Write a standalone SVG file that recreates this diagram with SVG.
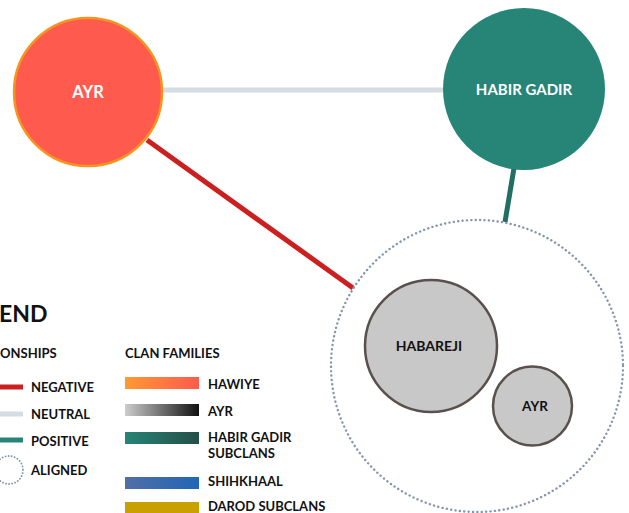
<svg xmlns="http://www.w3.org/2000/svg" width="629" height="513" viewBox="0 0 629 513">
<style>
text{font-family:Lato,"Open Sans","Liberation Sans",sans-serif;font-weight:700;}
.lbl{font-size:15px;text-anchor:middle;}
.w{fill:#ffffff;}
.k{fill:#111111;}
.leg{font-size:13px;fill:#111111;}
.sub{stroke:#5a504d;stroke-width:2.5;fill:#c8c8c8;}
.dot{fill:none;stroke:#8396ad;stroke-width:2.4;stroke-dasharray:0.1 4.3;stroke-linecap:round;}
.c{fill:none;stroke-width:5;}
</style>
<defs>
<linearGradient id="gHaw" x1="0" x2="1"><stop offset="0" stop-color="#ff9933"/><stop offset="1" stop-color="#ff5a4e"/></linearGradient>
<linearGradient id="gAyr" x1="0" x2="1"><stop offset="0" stop-color="#cccccc"/><stop offset="1" stop-color="#111111"/></linearGradient>
<linearGradient id="gHab" x1="0" x2="1"><stop offset="0" stop-color="#268577"/><stop offset="1" stop-color="#244f47"/></linearGradient>
<linearGradient id="gShi" x1="0" x2="1"><stop offset="0" stop-color="#516ea6"/><stop offset="1" stop-color="#2166b6"/></linearGradient>
</defs>
<g id="connectors">
<line class="c" x1="163" y1="90" x2="443" y2="90" stroke="#d5dde3"/>
<line class="c" x1="147" y1="140" x2="353" y2="288" stroke="#cc1f1f"/>
<line class="c" x1="514" y1="168" x2="505" y2="222" stroke="#206f62"/>
</g>
<g id="node-ayr">
<circle cx="88" cy="92" r="74" fill="#ff5a4e" stroke="#f7941d" stroke-width="2.5"/>
<text class="lbl w" x="88" y="98" style="font-size:16.5px">AYR</text>
</g>
<g id="node-habir-gadir">
<circle cx="524" cy="89" r="81" fill="#268577"/>
<text class="lbl w" x="524" y="95">HABIR GADIR</text>
</g>
<g id="group-aligned">
<circle class="dot" cx="477" cy="366" r="146"/>
</g>
<g id="node-habareji">
<circle class="sub" cx="431" cy="346" r="66"/>
<text class="lbl k" x="429" y="351" style="font-size:14px">HABAREJI</text>
</g>
<g id="node-ayr-sub">
<circle class="sub" cx="532.5" cy="406" r="39.5"/>
<text class="lbl k" x="535" y="411" style="font-size:13.5px">AYR</text>
</g>
<g id="legend">
<text x="-1" y="322" style="font-size:23px" fill="#111">END</text>
<text class="leg" x="0" y="358">ONSHIPS</text>
<text class="leg" x="125" y="358">CLAN FAMILIES</text>
<line x1="0" y1="387" x2="23" y2="387" stroke="#cc1f1f" stroke-width="5"/>
<text class="leg" x="31" y="392">NEGATIVE</text>
<line x1="0" y1="414" x2="23" y2="414" stroke="#d5dde3" stroke-width="5"/>
<text class="leg" x="31" y="419">NEUTRAL</text>
<line x1="0" y1="440" x2="23" y2="440" stroke="#268577" stroke-width="5"/>
<text class="leg" x="31" y="446">POSITIVE</text>
<circle class="dot" cx="9" cy="470" r="14" style="stroke-width:1.8;stroke-dasharray:0.1 3"/>
<text class="leg" x="31" y="475">ALIGNED</text>
<rect x="125" y="377" width="74" height="12" fill="url(#gHaw)"/>
<text class="leg" x="208" y="389">HAWIYE</text>
<rect x="125" y="404" width="74" height="12" fill="url(#gAyr)"/>
<text class="leg" x="208" y="416">AYR</text>
<rect x="125" y="432" width="74" height="12" fill="url(#gHab)"/>
<text class="leg" x="208" y="442">HABIR GADIR</text>
<text class="leg" x="208" y="458">SUBCLANS</text>
<rect x="125" y="477" width="74" height="12" fill="url(#gShi)"/>
<text class="leg" x="208" y="486">SHIHKHAAL</text>
<rect x="125" y="502" width="74" height="12" fill="#c8a000"/>
<text class="leg" x="208" y="511">DAROD SUBCLANS</text>
</g>
</svg>
